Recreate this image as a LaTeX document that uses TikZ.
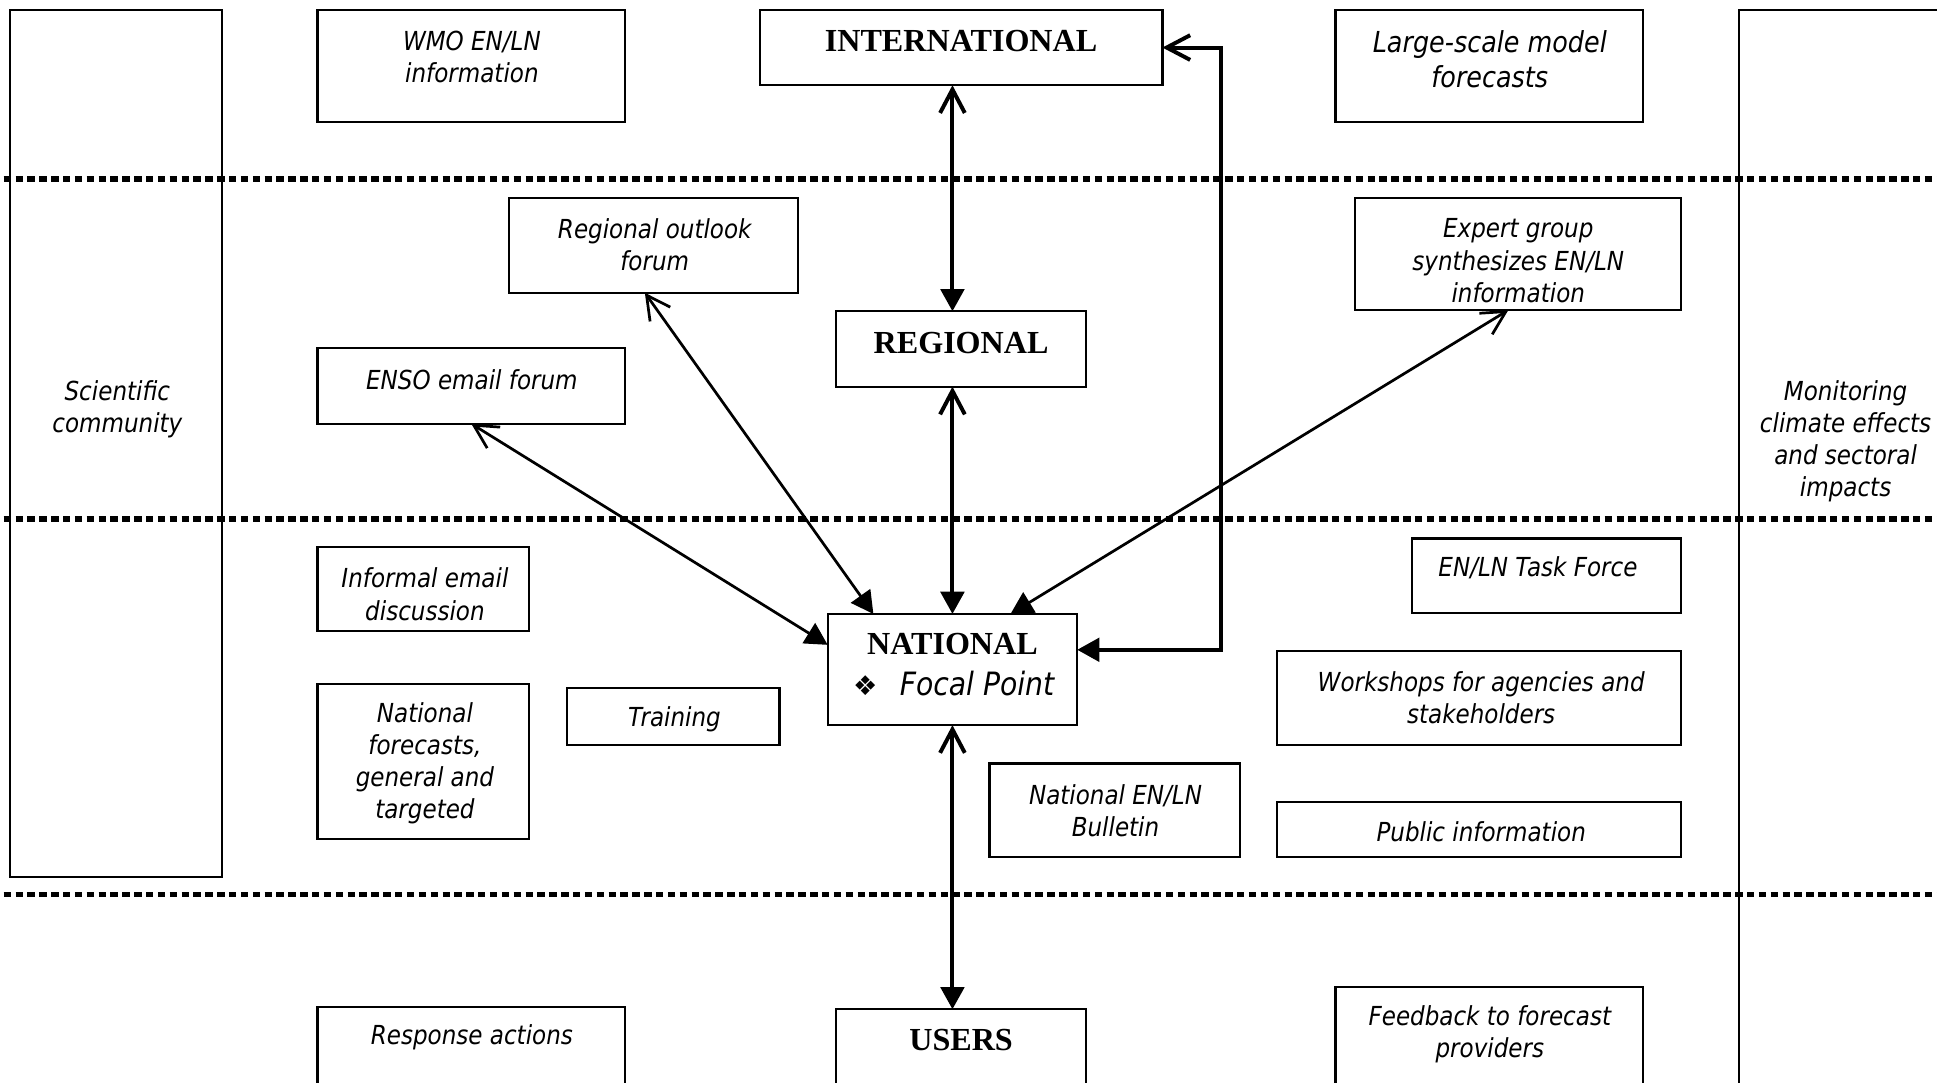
\documentclass[tikz,border=0pt]{standalone}
\usepackage{fontspec}
\setmainfont{Liberation Serif}
\newfontfamily\tahfont{DejaVu Sans}[FakeStretch=0.88]
\newfontfamily\symfont{DejaVu Sans}
\usetikzlibrary{arrows.meta,calc}
\tikzset{
  box/.style={draw, line width=0.9pt, inner sep=0pt, outer sep=0pt},
  itxt/.style={font=\tahfont\itshape\fontsize{10.6}{13}\selectfont, align=center, inner sep=0pt, yshift=-1pt},
  bigitxt/.style={font=\tahfont\itshape\fontsize{11.7}{14}\selectfont, align=center, inner sep=0pt, yshift=-0.5pt},
  btxt/.style={font=\bfseries\fontsize{13}{15}\selectfont, inner sep=0pt},
  sepline/.style={line width=2.2pt, dash pattern=on 3pt off 1.8pt},
  vlink/.style={line width=1.6pt, {Straight Barb[length=9.5pt,width=10pt]}-{Triangle[length=9pt,width=9.5pt]}},
  dlink/.style={line width=1.1pt, {Straight Barb[length=9.5pt,width=10pt]}-{Triangle[length=9pt,width=9.5pt]}}
}
\newcommand{\bx}[5]{\node[box, minimum width={(#4-#2)*0.5pt}, minimum height={(#5-#3)*0.5pt}] (#1) at ({(#2+#4)/2},{(#3+#5)/2}) {};}
\begin{document}
\begin{tikzpicture}[x=0.5pt,y=-0.5pt]
\useasboundingbox (0,0) rectangle (1568,876);
\clip (0,0) rectangle (1568,876);
% separators
\draw[sepline] (3,145) -- (1568,145);
\draw[sepline] (3,420) -- (1568,420);
\draw[sepline] (3,724) -- (1568,724);
% boxes
\bx{sci}{8}{8}{180}{710}
\bx{mon}{1408}{8}{1610}{900}
\bx{wmo}{257}{8}{506}{99}
\bx{intl}{615}{8}{941}{69}
\bx{large}{1081}{8}{1330}{99}
\bx{ro}{412}{160}{646}{237}
\bx{exp}{1097}{160}{1361}{251}
\bx{reg}{677}{252}{879}{313}
\bx{enso}{257}{282}{506}{343}
\bx{inf}{257}{443}{428}{511}
\bx{task}{1143}{436}{1361}{496}
\bx{nat}{670}{497}{872}{587}
\bx{nf}{257}{554}{428}{679}
\bx{train}{459}{557}{631}{603}
\bx{work}{1034}{527}{1361}{603}
\bx{bull}{801}{618}{1004}{694}
\bx{pub}{1034}{649}{1361}{694}
\bx{resp}{257}{815}{506}{900}
\bx{users}{677}{817}{879}{900}
\bx{feed}{1081}{799}{1330}{900}
% texts
\node[itxt] (scit) at (95,329) {Scientific\\community};
\node[itxt] (mont) at (1494,355) {Monitoring\\climate effects\\and sectoral\\impacts};
\node[itxt] (wmot) at (382,44) {WMO EN/LN\\information};
\node[btxt] (intlt) at (778,33) {INTERNATIONAL};
\node[bigitxt] (larget) at (1206,47) {Large-scale model\\forecasts};
\node[itxt] (rot) at (530,196) {Regional outlook\\forum};
\node[itxt] (expt) at (1229,209) {Expert group\\synthesizes EN/LN\\information};
\node[btxt] (regt) at (778,278) {REGIONAL};
\node[itxt] (ensot) at (382,305) {ENSO email forum};
\node[itxt] (inft) at (344,479) {Informal email\\discussion};
\node[itxt] (taskt) at (1245,458) {EN/LN Task Force};
\node[btxt] (natt) at (771,521) {NATIONAL};
\node[inner sep=0pt] (focal) at (772,553) {{\symfont\fontsize{11}{13}\selectfont ❖}\hspace{9pt}{\tahfont\itshape\fontsize{13}{15}\selectfont Focal Point}};
\node[itxt] (nft) at (344,616) {National\\forecasts,\\general and\\targeted};
\node[itxt] (traint) at (546,580) {Training};
\node[itxt] (workt) at (1199,563) {Workshops for agencies and\\stakeholders};
\node[itxt] (bullt) at (903,654) {National EN/LN\\Bulletin};
\node[itxt] (pubt) at (1199,671) {Public information};
\node[itxt] (respt) at (382,838) {Response actions};
\node[btxt] (userst) at (778,842) {USERS};
\node[itxt] (feedt) at (1206,835) {Feedback to forecast\\providers};
% connectors
\coordinate (natE) at ($(nat.north east)+(0,29)$);
\coordinate (elbow) at (988,526);
\draw[vlink] (intl.east) -- (elbow |- intl.east) -- (elbow) -- (natE);
\draw[vlink] (intl.south -| nat.north) -- (reg.north -| nat.north);
\draw[vlink] (reg.south -| nat.north) -- (nat.north);
\draw[vlink] (nat.south) -- (users.north -| nat.south);
\draw[dlink] ($(ro.south)+(-7,0)$) -- ($(nat.north west)+(37,0)$);
\draw[dlink] (enso.south) -- ($(nat.north west)+(0,25)$);
\draw[dlink] ($(exp.south)+(-8,0)$) -- ($(nat.north west)+(148,0)$);
\end{tikzpicture}
\end{document}
